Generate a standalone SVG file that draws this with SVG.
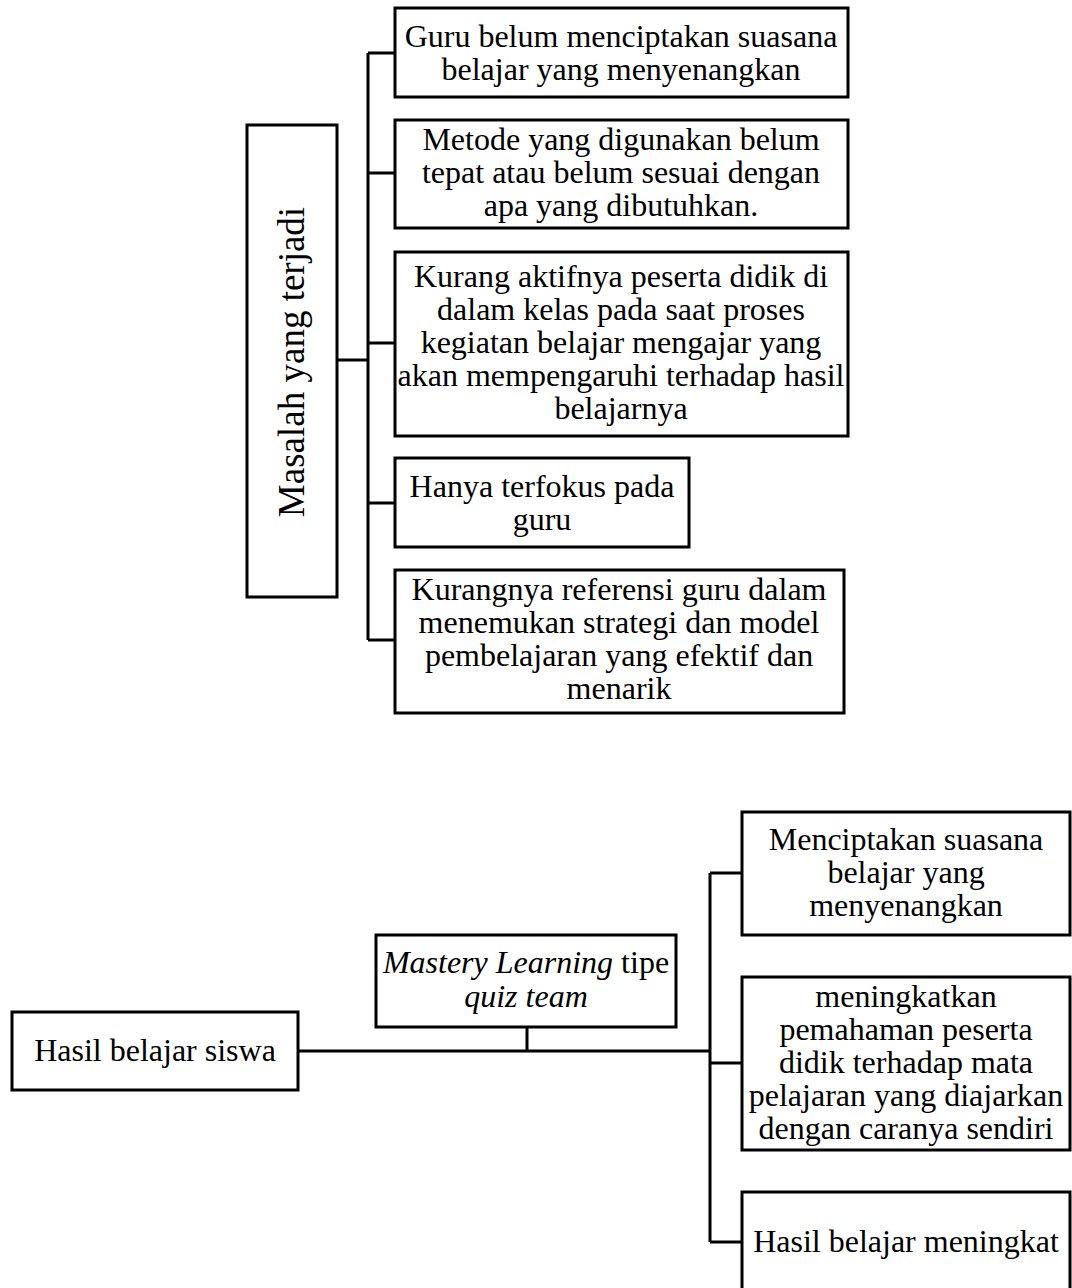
<svg xmlns="http://www.w3.org/2000/svg" width="1072" height="1288" viewBox="0 0 1072 1288">
<style>
  .box { fill: #ffffff; stroke: #000000; stroke-width: 3; }
  .ln { fill: none; stroke: #000000; stroke-width: 3; }
  text { font-family: "Liberation Serif", "Times New Roman", serif; font-size: 32px; fill: #000000; text-anchor: middle; }
  .big { font-size: 37px; }
  .it { font-style: italic; }
</style>
<rect width="1072" height="1288" fill="#ffffff"/>
<g id="connectors">
  <path class="ln" d="M337,360 H368 M368,53 V640 M368,53 H395 M368,173 H395 M368,343 H395 M368,503 H395 M368,640 H395"/>
  <path class="ln" d="M298,1051 H710 M527,1027 V1051 M710,873 V1242 M710,873 H742 M710,1063 H742 M710,1242 H742"/>
</g>
<g id="masalah">
  <rect class="box" x="247" y="125" width="90" height="472"/>
  <text class="big" transform="translate(304,362) rotate(-90)" x="0" y="0">Masalah yang terjadi</text>
</g>
<g id="guru-belum">
  <rect class="box" x="395" y="8" width="453" height="89"/>
  <text x="621" y="47">Guru belum menciptakan suasana</text>
  <text x="621" y="80">belajar yang menyenangkan</text>
</g>
<g id="metode">
  <rect class="box" x="395" y="120" width="453" height="108"/>
  <text x="621" y="150">Metode yang digunakan belum</text>
  <text x="621" y="183">tepat atau belum sesuai dengan</text>
  <text x="621" y="216">apa yang dibutuhkan.</text>
</g>
<g id="kurang-aktif">
  <rect class="box" x="395" y="252" width="453" height="184"/>
  <text x="621" y="287">Kurang aktifnya peserta didik di</text>
  <text x="621" y="320">dalam kelas pada saat proses</text>
  <text x="621" y="353">kegiatan belajar mengajar yang</text>
  <text x="621" y="386">akan mempengaruhi terhadap hasil</text>
  <text x="621" y="419">belajarnya</text>
</g>
<g id="hanya-terfokus">
  <rect class="box" x="395" y="458" width="294" height="89"/>
  <text x="542" y="497">Hanya terfokus pada</text>
  <text x="542" y="530">guru</text>
</g>
<g id="kurangnya-referensi">
  <rect class="box" x="395" y="570" width="449" height="143"/>
  <text x="619" y="600">Kurangnya referensi guru dalam</text>
  <text x="619" y="633">menemukan strategi dan model</text>
  <text x="619" y="666">pembelajaran yang efektif dan</text>
  <text x="619" y="699">menarik</text>
</g>
<g id="hasil-belajar-siswa">
  <rect class="box" x="12" y="1012" width="286" height="78"/>
  <text x="155" y="1061">Hasil belajar siswa</text>
</g>
<g id="mastery-learning">
  <rect class="box" x="376" y="935" width="300" height="92"/>
  <text x="526" y="973"><tspan class="it">Mastery Learning</tspan> tipe</text>
  <text x="526" y="1007" class="it">quiz team</text>
</g>
<g id="menciptakan">
  <rect class="box" x="742" y="812" width="328" height="123"/>
  <text x="906" y="850">Menciptakan suasana</text>
  <text x="906" y="883">belajar yang</text>
  <text x="906" y="916">menyenangkan</text>
</g>
<g id="meningkatkan">
  <rect class="box" x="742" y="977" width="328" height="173"/>
  <text x="906" y="1007">meningkatkan</text>
  <text x="906" y="1040">pemahaman peserta</text>
  <text x="906" y="1073">didik terhadap mata</text>
  <text x="906" y="1106">pelajaran yang diajarkan</text>
  <text x="906" y="1139">dengan caranya sendiri</text>
</g>
<g id="hasil-meningkat">
  <rect class="box" x="742" y="1192" width="328" height="110"/>
  <text x="906" y="1252">Hasil belajar meningkat</text>
</g>
</svg>
